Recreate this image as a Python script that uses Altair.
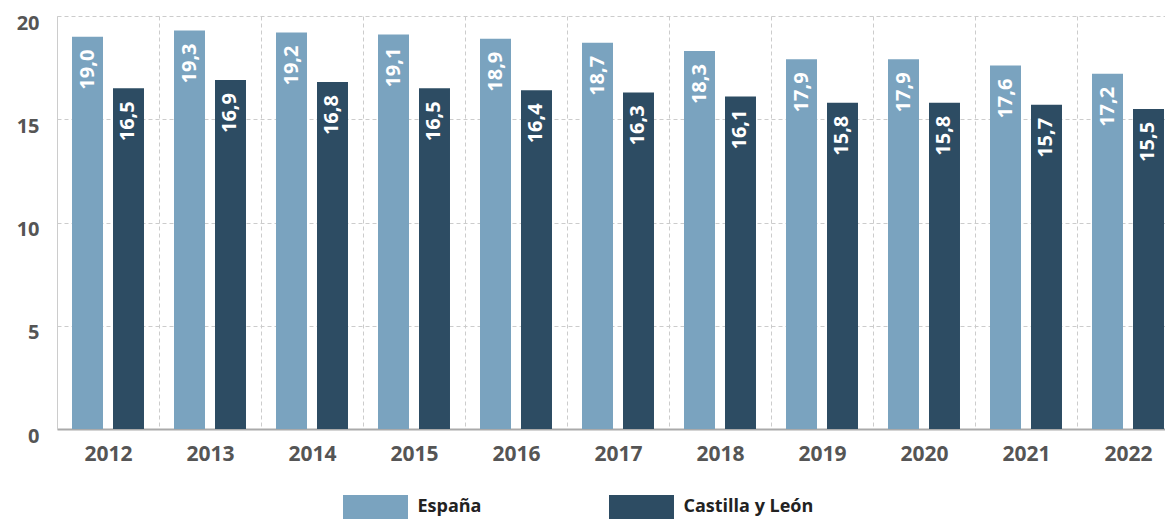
import altair as alt
import pandas as pd

years = ["2012", "2013", "2014", "2015", "2016", "2017", "2018", "2019", "2020", "2021", "2022"]
espana = [19.0, 19.3, 19.2, 19.1, 18.9, 18.7, 18.3, 17.9, 17.9, 17.6, 17.2]
castilla = [16.5, 16.9, 16.8, 16.5, 16.4, 16.3, 16.1, 15.8, 15.8, 15.7, 15.5]
series = ["España", "Castilla y León"]
colors = ["#7aa3bf", "#2d4c63"]
y_ticks = [0, 5, 10, 15, 20]

rows = []
for i, yr in enumerate(years):
    rows.append({"year": yr, "serie": series[0], "value": espana[i]})
    rows.append({"year": yr, "serie": series[1], "value": castilla[i]})
df = pd.DataFrame(rows)

FONT = "Open Sans"

x = alt.X(
    "year:N",
    sort=years,
    scale=alt.Scale(paddingInner=0, paddingOuter=0),
    axis=alt.Axis(
        title=None, labelAngle=0, tickBand="extent", grid=True,
        gridDash=[4, 3], gridColor="#cccccc", domainColor="#aaaaaa", domainWidth=2,
        ticks=False, labelFont=FONT, labelFontSize=21, labelFontWeight="bold",
        labelColor="#555555", labelPadding=14,
    ),
)
xo = alt.XOffset("serie:N", sort=series, scale=alt.Scale(paddingInner=0.244, paddingOuter=0.366))
y = alt.Y(
    "value:Q",
    scale=alt.Scale(domain=[0, 20], nice=False),
    axis=alt.Axis(
        title=None, values=y_ticks, grid=True, gridDash=[4, 3], gridColor="#cccccc",
        domainColor="#cccccc", domainWidth=1, ticks=False, labelFont=FONT,
        labelFontSize=20, labelFontWeight="bold", labelColor="#555555",
        labelPadding=18, labelOffset=7,
    ),
)
color = alt.Color(
    "serie:N",
    sort=series,
    scale=alt.Scale(domain=series, range=colors),
    legend=alt.Legend(
        title=None, orient="none", direction="horizontal", legendX=306.5, legendY=479,
        symbolType="M-2.708,-1H2.708V1H-2.708Z", symbolSize=576, symbolStrokeWidth=0,
        symbolOpacity=1, labelFont=FONT, labelFontSize=18, labelFontWeight="bold",
        labelColor="#222222", labelOffset=30, columnPadding=127,
    ),
)

base = alt.Chart(df).encode(x=x, xOffset=xo, y=y)
bars = base.mark_bar().encode(color=color)
labels = base.mark_text(
    angle=270, align="right", baseline="middle", dx=-13, font=FONT,
    fontSize=20, fontWeight="bold", color="white",
).transform_calculate(label="replace(format(datum.value, '.1f'), '.', ',')").encode(text="label:N")

chart = (
    alt.layer(bars, labels)
    .properties(
        width=1122, height=413,
        autosize=alt.AutoSizeParams(type="none"),
        padding={"left": 49, "top": 8, "right": -14, "bottom": 90},
    )
    .configure_view(stroke=None)
)

chart.save("out.html", embed_options={"renderer": "svg", "actions": False})
